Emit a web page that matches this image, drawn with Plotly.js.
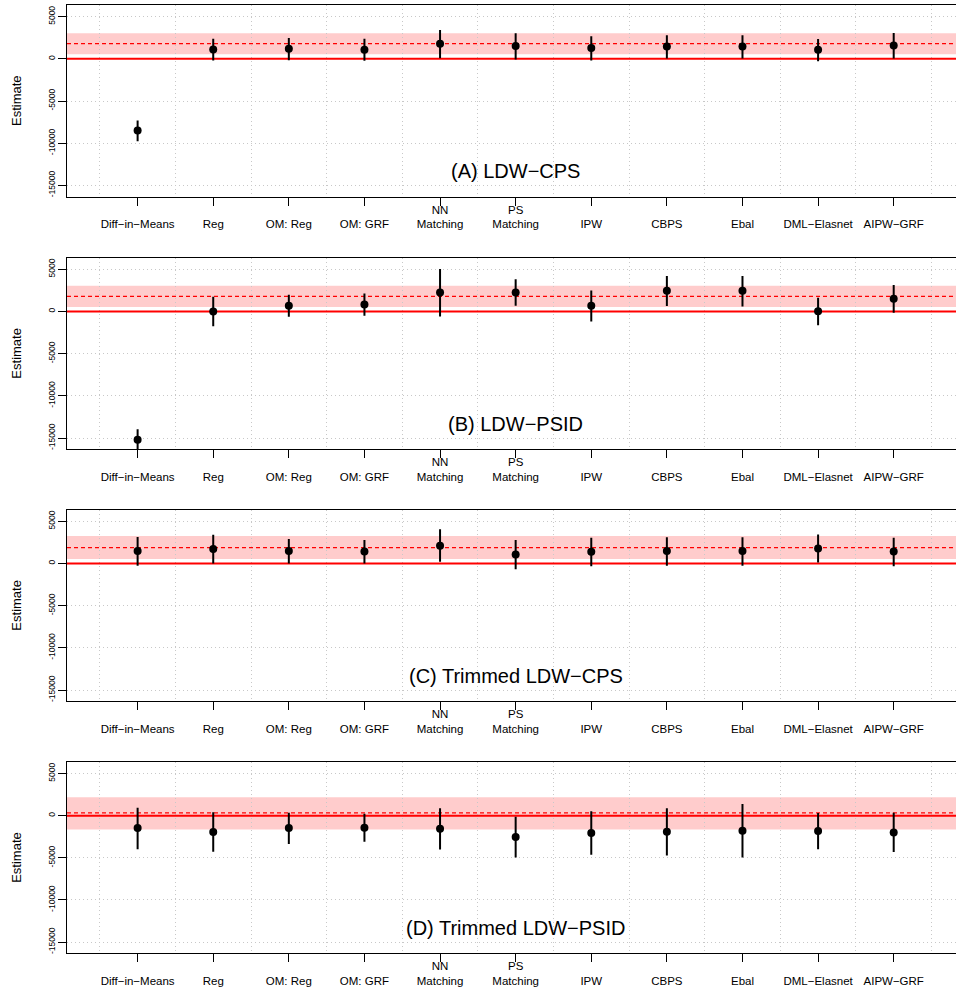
<!DOCTYPE html>
<html>
<head>
<meta charset="utf-8">
<script src="https://cdn.plot.ly/plotly-3.0.1.min.js"></script>
<style>html,body{margin:0;padding:0;background:#fff;}#chart{width:956px;height:991px;}</style>
</head>
<body>
<div id="chart"></div>
<script>
// ---- Data ----
const methods = ["Diff\u2212in\u2212Means","Reg","OM: Reg","OM: GRF","NN<br>Matching","PS<br>Matching","IPW","CBPS","Ebal","DML\u2212Elasnet","AIPW\u2212GRF"];
const methodPos = [1,2,3,4,5,6,7,8,9,10,11];
const panelTitles = ["(A) LDW\u2212CPS","(B) LDW\u2212PSID","(C) Trimmed LDW\u2212CPS","(D) Trimmed LDW\u2212PSID"];

// Panel A: LDW-CPS
const estA   = [-8498, 1110, 1190, 1070, 1790, 1510, 1270, 1470, 1470, 1070, 1590];
const lowerA = [-9770, -200, -160, -240,   80,  -80, -200,   40,   40, -280,   40];
const upperA = [-7300, 2380, 2460, 2380, 3410, 3020, 2660, 2780, 2780, 2340, 3060];
// Panel B: LDW-PSID
const estB   = [-15205,    4,  675,  835, 2260, 2260,  675, 2460, 2460,   40, 1510];
const lowerB = [-16500, -1740, -635, -515, -595,  675, -1190, 635,  595, -1630, -160];
const upperB = [-13970, 1750, 1985, 2145, 5040, 3810, 2500, 4205, 4205, 1630, 3135];
// Panel C: Trimmed LDW-CPS
const estC   = [1470, 1705, 1470, 1430, 2105, 1070, 1390, 1470, 1470, 1785, 1430];
const lowerC = [-280,    0,    0,    0,  200, -675, -320, -280, -280,  120, -320];
const upperC = [3135, 3410, 2895, 2780, 4045, 2780, 3055, 3095, 3095, 3450, 3055];
// Panel D: Trimmed LDW-PSID
const estD   = [-1470, -1945, -1470, -1430, -1550, -2540, -2065, -1905, -1785, -1825, -1985];
const lowerD = [-3970, -4285, -3375, -3095, -4010, -4960, -4645, -4720, -4960, -3970, -4325];
const upperD = [  950,   400,   355,   240,   875,  -120,   515,   875,  1390,   315,   355];

// Experimental benchmarks (dashed line) and their 95% CI bands
const benchmark = [1794, 1794, 1890, 330];
const bandLower = [553, 516, 516, -1627];
const bandUpper = [3035, 3055, 3254, 2182];

const yTickVals = [5000, 0, -5000, -10000, -15000];
const yTickText = ["5000", "0", "-5000", "-10000", "-15000"];
const labelX = 6, labelY = -13300;

// ---- Build ----
const est = [estA, estB, estC, estD];
const lo = [lowerA, lowerB, lowerC, lowerD];
const hi = [upperA, upperB, upperC, upperD];

const xRange = [0.066, 11.824];
const H = 991;
const panelPx = [[5.3,196.7],[258,449.3],[510,701.3],[762.3,953.3]];
const FONT = "Liberation Sans, Arial, Helvetica, sans-serif";

const traces = [];
const layout = {
  width: 956, height: 991,
  margin: {l: 67, r: 0, t: 0, b: 0},
  paper_bgcolor: "#fff", plot_bgcolor: "#fff",
  showlegend: false,
  font: {family: FONT, color: "#000"},
  shapes: [], annotations: []
};

const tickTextX = methods.map(m => m.indexOf("<br>") >= 0 ? m : "\u00a0<br>" + m);

for (let k = 0; k < 4; k++) {
  const sfx = k === 0 ? "" : String(k + 1);
  const xa = "x" + sfx, ya = "y" + sfx;
  const dom = [1 - panelPx[k][1] / H, 1 - panelPx[k][0] / H];
  layout["xaxis" + sfx] = {
    anchor: ya, domain: [0, 1], range: xRange,
    tickmode: "array", tickvals: methodPos, ticktext: tickTextX,
    ticks: "outside", ticklen: 8, tickcolor: "#000", tickwidth: 1,
    showgrid: false, zeroline: false,
    showline: true, linecolor: "#000", linewidth: 1, mirror: true,
    tickfont: {family: FONT, size: 11.5, color: "#000"},
    tickangle: 0, automargin: false, ticklabelstandoff: -6,
    minor: {tickmode: "array", tickvals: [0.5,1.5,2.5,3.5,4.5,5.5,6.5,7.5,8.5,9.5,10.5,11.5],
            showgrid: true, gridcolor: "#c8c8c8", griddash: "1px,3px", gridwidth: 1, ticks: ""}
  };
  layout["yaxis" + sfx] = {
    anchor: xa, domain: dom, range: [-16340, 6340],
    tickmode: "array", tickvals: yTickVals, ticktext: yTickText,
    ticks: "outside", ticklen: 8, tickcolor: "#000", tickwidth: 1,
    tickangle: -90, tickfont: {family: FONT, size: 8.5, color: "#000"},
    showgrid: true, gridcolor: "#c8c8c8", griddash: "1px,3px", gridwidth: 1,
    zeroline: false, showline: true, linecolor: "#000", linewidth: 1,
    automargin: false
  };
  // CI band of benchmark
  layout.shapes.push({type: "rect", xref: xa + " domain", yref: ya, x0: 0, x1: 1,
    y0: bandLower[k], y1: bandUpper[k], fillcolor: "rgba(255,0,0,0.2)", line: {width: 0}, layer: "below"});
  // panel label
  layout.annotations.push({xref: xa, yref: ya, x: labelX, y: labelY, text: panelTitles[k],
    showarrow: false, xanchor: "center", yanchor: "middle", font: {family: FONT, size: 20, color: "#000"}});
  // y-axis title
  layout.annotations.push({xref: "paper", yref: "paper", x: (17 - 67) / 889, y: (dom[0] + dom[1]) / 2,
    text: "Estimate", textangle: -90, showarrow: false, xanchor: "center", yanchor: "middle",
    font: {family: FONT, size: 13, color: "#000"}});
  // zero reference line
  traces.push({type: "scatter", mode: "lines", xaxis: xa, yaxis: ya,
    x: xRange, y: [0, 0], line: {color: "#ff0000", width: 2}, hoverinfo: "skip"});
  // benchmark dashed line
  traces.push({type: "scatter", mode: "lines", xaxis: xa, yaxis: ya,
    x: xRange, y: [benchmark[k], benchmark[k]], line: {color: "#ff0000", width: 1.3, dash: "4px,3px"}, hoverinfo: "skip"});
  // estimates with CIs
  traces.push({
    type: "scatter", mode: "markers", xaxis: xa, yaxis: ya,
    x: methodPos, y: est[k],
    marker: {color: "#000", size: 8},
    error_y: {type: "data", symmetric: false,
      array: hi[k].map((v, i) => v - est[k][i]),
      arrayminus: lo[k].map((v, i) => est[k][i] - v),
      color: "#000", thickness: 2, width: 0},
    hoverinfo: "skip"
  });
}

Plotly.newPlot("chart", traces, layout, {staticPlot: true, displayModeBar: false});
</script>
</body>
</html>
